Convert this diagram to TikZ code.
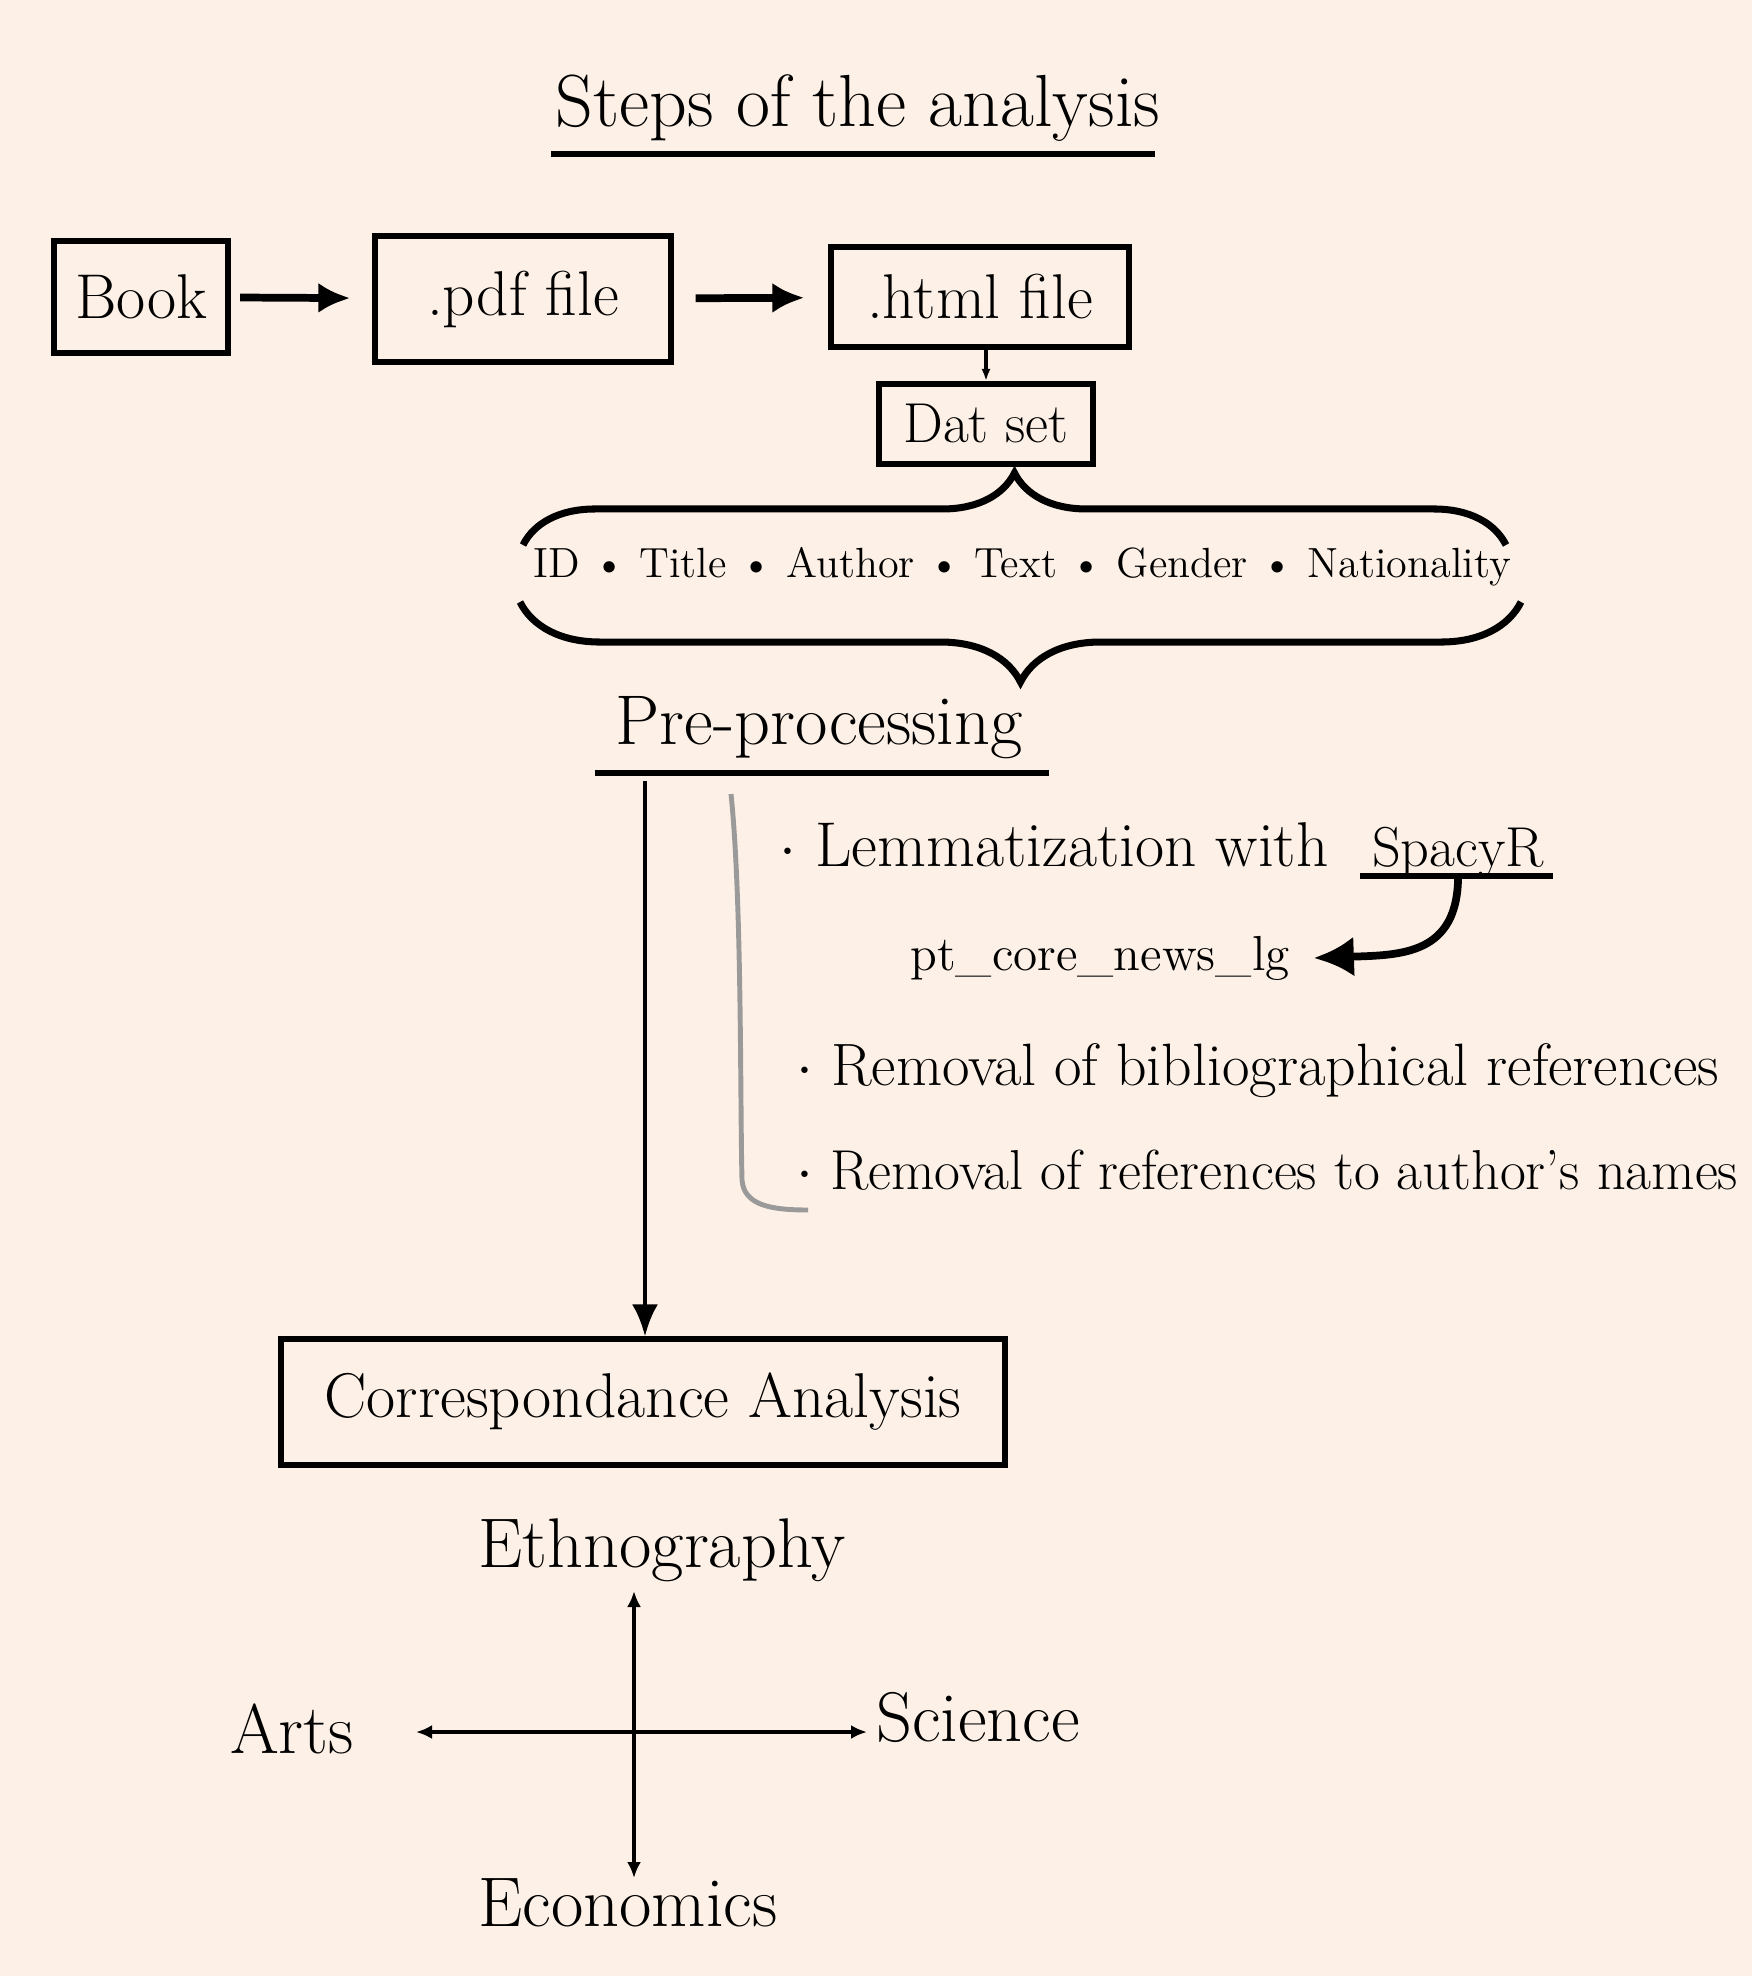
\documentclass[tikz,border=0pt]{standalone}
\usetikzlibrary{positioning, arrows.meta, decorations.pathreplacing}
\usepackage{xcolor}
\definecolor{PaperPeach}{HTML}{FDF0E6}
\definecolor{PencilGrey}{HTML}{9A9A9A}

\begin{document}
\begin{tikzpicture}[x=0.01cm, y=-0.01cm,
    stepbox/.style={draw, line width=1.7pt, inner sep=0pt, font=\fontsize{18}{22}\selectfont},
    hand/.style={inner sep=1pt, font=\fontsize{16}{19}\selectfont},
    big/.style={inner sep=1pt, font=\fontsize{20}{24}\selectfont},
    flow/.style={-{Latex[length=0.32cm, width=0.3cm]}, line width=2.2pt},
    axis/.style={{Latex[length=0.16cm, width=0.14cm]}-{Latex[length=0.16cm, width=0.14cm]}, line width=1.4pt}]
    % Paper
    \fill[PaperPeach] (0,0) rectangle (1752,1976);
    \useasboundingbox (0,0) rectangle (1752,1976);

    % Title
    \node[big, font=\fontsize{21}{25}\selectfont] (title) at (858,108) {Steps of the analysis};
    \draw[line width=1.7pt] (551,154) -- (1155,154);

    % Nodes
    \node[stepbox, minimum width=1.74cm, minimum height=1.11cm] (book) at (141,297) {Book};
    \node[stepbox, minimum width=2.95cm, minimum height=1.26cm] (pdf) at (523,299) {.pdf file};
    \node[stepbox, minimum width=2.97cm, minimum height=1.00cm] (html) at (980,297) {.html file};
    \node[stepbox, minimum width=2.13cm, minimum height=0.80cm, font=\fontsize{16}{19}\selectfont] (data) at (986,424) {Dat set};

    % Edges
    \draw[flow, shorten <=0.09cm, shorten >=0.22cm] (book) -- (pdf);
    \draw[flow, shorten <=0.22cm, shorten >=0.24cm] (pdf) -- (html);
    \draw[-{Latex[length=0.12cm]}, line width=1.4pt] (html.south -| data) -- (data.north);

    % Variables of the data set
    \draw[line width=2pt, decorate, decoration={brace, amplitude=0.72cm}] (523,545) -- (1506,545);
    \node[hand, font=\fontsize{12}{15}\selectfont] (vars) at (1022,567)
        {ID \textbullet{} Title \textbullet{} Author \textbullet{} Text \textbullet{} Gender \textbullet{} Nationality};
    \draw[line width=2pt, decorate, decoration={brace, amplitude=0.8cm}] (1521,602) -- (520,602);

    % Pre-processing
    \node[big] (prep) at (819,728) {Pre-processing};
    \coordinate (prepl) at (595,773);
    \coordinate (prepr) at (1049,773);
    \draw[line width=1.7pt] (prepl) -- (prepr);
    \coordinate (prepout) at (645,781);

    \node[hand, anchor=west, font=\fontsize{18}{21}\selectfont] (lemma) at (775,845) {$\cdot$ Lemmatization with};
    \node[hand, base right=0.35cm of lemma] (spacy) {SpacyR};
    \draw[line width=1.7pt] ([xshift=-0.08cm, yshift=-0.09cm]spacy.base west) -- ([xshift=0.05cm, yshift=-0.09cm]spacy.base east);
    \node[hand, font=\fontsize{14}{17}\selectfont] (model) at (1100,958) {pt\_core\_news\_lg};
    \draw[-{Latex[length=0.4cm, width=0.4cm]}, line width=2.2pt]
        ([yshift=-0.09cm]spacy.base) .. controls ++(0,80) and (1400,955) .. ([xshift=0.2cm]model.east);
    \node[hand, anchor=west, font=\fontsize{17}{20}\selectfont] (biblio) at (792,1071) {$\cdot$ Removal of bibliographical references};
    \node[hand, anchor=west] (names) at (792,1170) {$\cdot$ Removal of references to author's names};
    \draw[PencilGrey, line width=1.4pt] (731,794) .. controls (742,900) and (740,1100) .. (742,1180)
        .. controls (744,1205) and (770,1210) .. (808,1210);

    % Correspondance analysis
    \node[stepbox, minimum width=7.23cm, minimum height=1.25cm] (corr) at (643,1402) {Correspondance Analysis};
    \draw[-{Latex[length=0.32cm, width=0.26cm]}, line width=1.4pt] (prepout) -- (prepout |- corr.north);

    % Axes
    \node[big] (eth) at (662,1550) {Ethnography};
    \node[big] (eco) at (628,1903) {Economics};
    \node[big] (arts) at (292,1729) {Arts};
    \node[big] (sci) at (978,1717) {Science};
    \coordinate (ytop) at (634,1591);
    \coordinate (ybot) at (634,1878);
    \coordinate (xleft) at (416,1732);
    \coordinate (xright) at (867,1732);
    \draw[axis] (ytop) -- (ybot);
    \draw[axis] (xleft) -- (xright);
\end{tikzpicture}
\end{document}
